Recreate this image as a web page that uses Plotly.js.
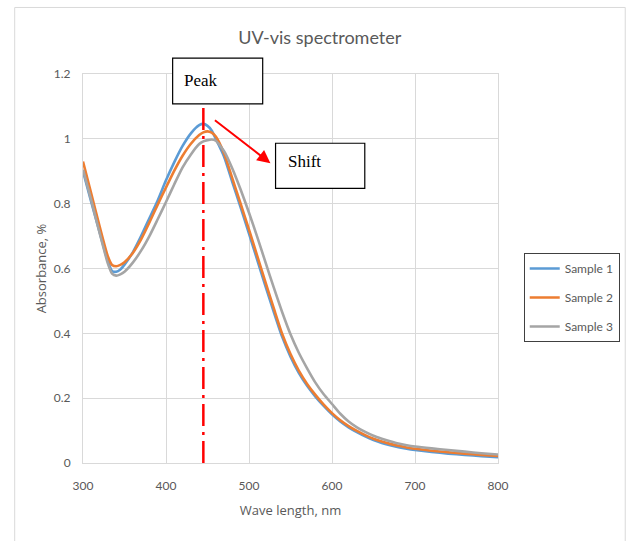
<!DOCTYPE html>
<html>
<head>
<meta charset="utf-8">
<script src="https://cdn.plot.ly/plotly-3.0.1.min.js"></script>
<style>html,body{margin:0;padding:0;background:#fff;}#chart{width:627px;height:541px;}</style>
</head>
<body>
<div id="chart"></div>
<script>
// Wavelength (nm)
const wavelength = [300,310,320,330,335,340,345,350,360,370,380,390,400,410,420,430,440,445,450,455,460,470,480,490,500,510,520,530,540,550,560,570,580,590,600,610,620,630,640,650,660,670,680,690,700,720,740,760,780,800];
// Absorbance series
const sample1 = [0.900,0.805,0.712,0.622,0.592,0.590,0.597,0.612,0.650,0.700,0.755,0.810,0.872,0.928,0.978,1.017,1.042,1.046,1.040,1.026,1.000,0.945,0.866,0.788,0.708,0.626,0.544,0.465,0.389,0.328,0.278,0.238,0.205,0.176,0.150,0.128,0.110,0.095,0.082,0.071,0.062,0.055,0.049,0.044,0.040,0.034,0.029,0.025,0.021,0.018];
const sample2 = [0.930,0.830,0.730,0.637,0.611,0.607,0.611,0.619,0.648,0.690,0.742,0.797,0.850,0.902,0.948,0.985,1.012,1.020,1.023,1.019,1.007,0.955,0.877,0.799,0.720,0.638,0.556,0.476,0.398,0.336,0.285,0.244,0.210,0.180,0.154,0.132,0.114,0.099,0.086,0.075,0.066,0.059,0.053,0.048,0.044,0.038,0.033,0.029,0.025,0.022];
const sample3 = [0.905,0.810,0.710,0.615,0.584,0.578,0.582,0.590,0.618,0.655,0.700,0.752,0.805,0.860,0.912,0.952,0.984,0.992,0.996,0.998,0.994,0.962,0.908,0.843,0.772,0.697,0.618,0.540,0.465,0.397,0.340,0.292,0.248,0.212,0.182,0.152,0.128,0.110,0.096,0.084,0.075,0.067,0.060,0.055,0.051,0.045,0.040,0.035,0.030,0.026];
const seriesNames = ["Sample 1","Sample 2","Sample 3"];
const seriesColors = ["#5B9BD5","#ED7D31","#A5A5A5"];
const yTicks = [0,0.2,0.4,0.6,0.8,1,1.2];
const yTickText = ["0","0.2","0.4","0.6","0.8","1","1.2"];
const xTicks = [300,400,500,600,700,800];
const peakWavelength = 445;

const allSeries = [sample1, sample2, sample3];
const traces = allSeries.map((s, i) => ({
  x: wavelength, y: s, type: 'scatter', mode: 'lines',
  name: seriesNames[i], legendgroup: 'g' + i,
  line: {color: seriesColors[i], width: 2.6, shape: 'spline', smoothing: 0.6}
}));

const txt = '#595959';
const font = 'Lato, "Open Sans", sans-serif';
const titleFont = '"Open Sans", Lato, sans-serif';
const serif = '"Liberation Serif", "DejaVu Serif", serif';

const layout = {
  width: 627, height: 541,
  margin: {l: 83, r: 129, t: 74, b: 78, autoexpand: false},
  paper_bgcolor: '#fff', plot_bgcolor: '#fff',
  font: {family: font, color: txt, size: 12},
  title: {text: 'UV-vis spectrometer', font: {family: font, size: 18, color: txt}, x: 0.51, xref: 'container', xanchor: 'center', y: 0.93, yref: 'container', yanchor: 'middle'},
  xaxis: {
    range: [300, 800], tickvals: xTicks, ticktext: xTicks.map(String),
    showgrid: true, gridcolor: '#d9d9d9', gridwidth: 1,
    showline: true, linecolor: '#d9d9d9', linewidth: 1, mirror: true,
    zeroline: false, ticks: '', ticklabelstandoff: 12,
    tickfont: {family: font, size: 12, color: txt},
    title: {text: 'Wave length, nm', font: {family: titleFont, size: 13, color: txt}, standoff: 13},
    fixedrange: true
  },
  yaxis: {
    range: [0, 1.2], tickvals: yTicks, ticktext: yTickText,
    showgrid: true, gridcolor: '#d9d9d9', gridwidth: 1,
    showline: true, linecolor: '#d9d9d9', linewidth: 1, mirror: true,
    zeroline: false, ticks: '', ticklabelstandoff: 9,
    tickfont: {family: font, size: 12, color: txt},
    title: {text: 'Absorbance, %', font: {family: titleFont, size: 13, color: txt}, standoff: 4},
    fixedrange: true
  },
  legend: {
    x: 1.062, y: 0.54, xanchor: 'left', yanchor: 'top',
    bgcolor: '#fff', bordercolor: '#404040', borderwidth: 1,
    font: {family: font, size: 12, color: txt},
    traceorder: 'grouped', tracegroupgap: 10, itemwidth: 30
  },
  shapes: [
    // outer chart frame
    {type: 'rect', xref: 'paper', yref: 'paper', x0: -0.1646, x1: 1.3066, y0: -0.25, y1: 1.171, line: {color: '#d9d9d9', width: 1}, fillcolor: 'rgba(0,0,0,0)', layer: 'below'},
    // peak marker line
    {type: 'line', xref: 'x', yref: 'y', x0: peakWavelength, x1: peakWavelength, y0: 0, y1: 1.11, line: {color: '#FF0000', width: 2.5, dash: '22px,6px,3px,6px'}},
    // Peak box
    {type: 'rect', xref: 'paper', yref: 'paper', x0: 0.216, x1: 0.433, y0: 0.923, y1: 1.041, line: {color: '#000', width: 1.2}, fillcolor: '#fff'},
    // Shift box
    {type: 'rect', xref: 'paper', yref: 'paper', x0: 0.464, x1: 0.679, y0: 0.706, y1: 0.822, line: {color: '#000', width: 1.2}, fillcolor: '#fff'}
  ],
  annotations: [
    {text: 'Peak', xref: 'paper', yref: 'paper', x: 0.238, y: 0.983, xanchor: 'left', yanchor: 'middle', showarrow: false, font: {family: serif, size: 17, color: '#000'}},
    {text: 'Shift', xref: 'paper', yref: 'paper', x: 0.49, y: 0.775, xanchor: 'left', yanchor: 'middle', showarrow: false, font: {family: serif, size: 17, color: '#000'}},
    {text: '', xref: 'x', yref: 'y', x: 525.8, y: 0.925, axref: 'pixel', ayref: 'pixel', ax: -57, ay: -44, showarrow: true, arrowcolor: '#FF0000', arrowwidth: 2, arrowhead: 2, arrowsize: 1.3, standoff: 0, startstandoff: 0}
  ],
  showlegend: true
};

Plotly.newPlot('chart', traces, layout, {displayModeBar: false, staticPlot: true});
</script>
</body>
</html>
